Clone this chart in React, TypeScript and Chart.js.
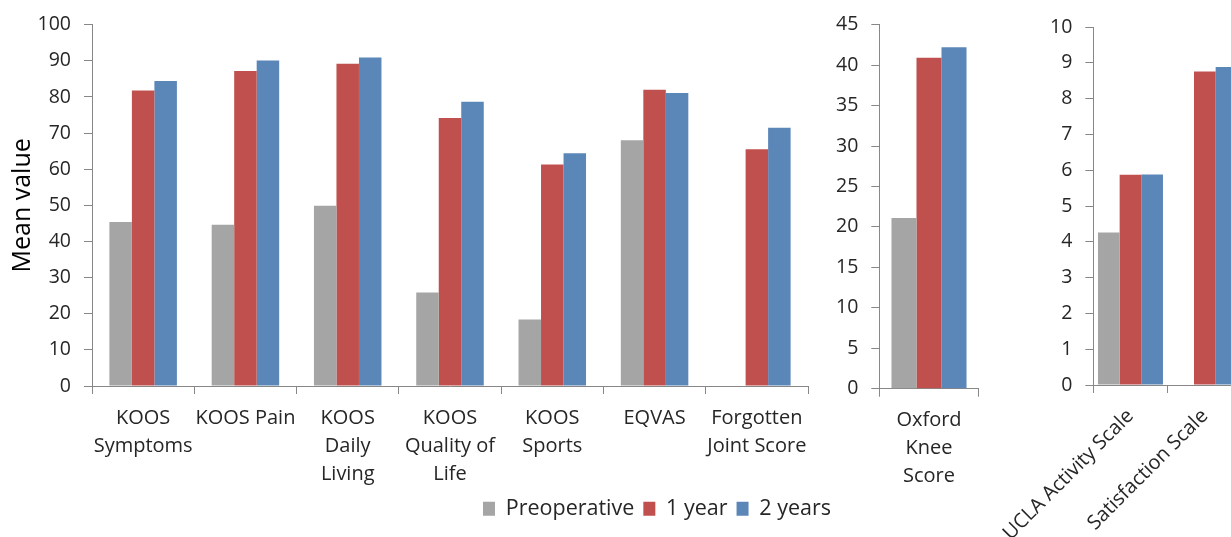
import React, { useEffect, useRef } from 'react';
import { Chart, registerables } from 'chart.js';

Chart.register(...registerables);

// ---------- data ----------
const seriesNames = ['Preoperative', '1 year', '2 years'];

const koosCategories = [
  ['KOOS', 'Symptoms'],
  'KOOS Pain',
  ['KOOS', 'Daily', 'Living'],
  ['KOOS', 'Quality of', 'Life'],
  ['KOOS', 'Sports'],
  'EQVAS',
  ['Forgotten', 'Joint Score'],
];
const koosPreop = [45.4, 44.6, 49.9, 25.9, 18.4, 68.0, null];
const koosYear1 = [81.8, 87.2, 89.2, 74.2, 61.3, 82.0, 65.5];
const koosYear2 = [84.4, 90.1, 90.9, 78.7, 64.4, 81.1, 71.5];

const oxfordCategories = [['Oxford', 'Knee', 'Score']];
const oxfordPreop = [21.1];
const oxfordYear1 = [40.9];
const oxfordYear2 = [42.2];

const scaleCategories = ['UCLA Activity Scale', 'Satisfaction Scale'];
const scalePreop = [4.26, null];
const scaleYear1 = [5.87, 8.76];
const scaleYear2 = [5.88, 8.88];

const yAxisTitle = 'Mean value';

// ---------- styles ----------
const FONT = "'Open Sans', 'Noto Sans', 'DejaVu Sans', sans-serif";
const TEXT = '#262626';
const AXIS = '#878787';
const COLORS = ['#A5A5A5', '#C0504D', '#5B86B8'];

type Opts = {
  labels: any[];
  pre: (number | null)[];
  y1: (number | null)[];
  y2: (number | null)[];
  max: number;
  step: number;
  catPct: number;
  yWidth: number;
  xHeight: number;
  padding: { top: number; right: number; bottom: number; left: number };
  rotation: number;
  xPad: number;
  title?: string;
  legend: boolean;
  rightSpacer?: number;
};

function buildConfig(o: Opts): any {
  const scales: any = {
    x: {
      offset: true,
      grid: {
        offset: true,
        drawOnChartArea: false,
        drawTicks: true,
        tickLength: 8,
        color: AXIS,
        lineWidth: 1,
      },
      border: { display: true, color: AXIS, width: 1 },
      ticks: {
        color: TEXT,
        font: { family: FONT, size: 20, lineHeight: '28px' },
        padding: o.xPad,
        autoSkip: false,
        maxRotation: o.rotation,
        minRotation: o.rotation,
      },
      afterFit: (s: any) => {
        s.height = o.xHeight;
      },
    },
    y: {
      min: 0,
      max: o.max,
      grid: { drawOnChartArea: false, drawTicks: true, tickLength: 8, color: AXIS, lineWidth: 1 },
      border: { display: true, color: AXIS, width: 1 },
      ticks: {
        stepSize: o.step,
        color: TEXT,
        font: { family: FONT, size: 19.5 },
        padding: 13,
      },
      title: o.title
        ? {
            display: true,
            text: o.title,
            color: '#000',
            font: { family: FONT, size: 25 },
            padding: { top: 8, bottom: 0 },
          }
        : { display: false },
      afterFit: (s: any) => {
        s.width = o.yWidth;
      },
    },
  };
  if (o.rightSpacer) {
    scales.y2 = {
      type: 'linear',
      position: 'right',
      display: true,
      grid: { display: false },
      border: { display: false },
      ticks: { display: false },
      afterFit: (s: any) => {
        s.width = o.rightSpacer;
      },
    };
  }
  const series = [o.pre, o.y1, o.y2];
  return {
    type: 'bar',
    data: {
      labels: o.labels,
      datasets: series.map((d, i) => ({
        label: seriesNames[i],
        data: d,
        backgroundColor: COLORS[i],
        borderWidth: 0,
        barPercentage: 1,
        categoryPercentage: o.catPct,
        yAxisID: 'y',
      })),
    },
    options: {
      responsive: false,
      animation: false,
      events: [],
      layout: { padding: o.padding },
      scales,
      plugins: {
        tooltip: { enabled: false },
        title: { display: false },
        legend: {
          display: o.legend,
          position: 'bottom',
          align: 'end',
          labels: {
            boxWidth: 12,
            boxHeight: 14,
            padding: 9,
            color: TEXT,
            font: { family: FONT, size: 21.5 },
          },
        },
      },
    },
  };
}

function Panel(props: { left: number; top: number; width: number; height: number; make: () => any }) {
  const ref = useRef<HTMLCanvasElement>(null);
  useEffect(() => {
    const chart = new Chart(ref.current as HTMLCanvasElement, props.make());
    return () => chart.destroy();
  }, []);
  return (
    <canvas
      ref={ref}
      width={props.width}
      height={props.height}
      style={{ position: 'absolute', left: props.left, top: props.top, width: props.width, height: props.height }}
    />
  );
}

export default function App() {
  return (
    <div
      style={{
        position: 'fixed',
        left: 0,
        top: 0,
        width: 1231,
        height: 537,
        overflow: 'hidden',
        background: '#fff',
      }}
    >
      <Panel
        left={0}
        top={0}
        width={840}
        height={537}
        make={() =>
          buildConfig({
            labels: koosCategories,
            pre: koosPreop,
            y1: koosYear1,
            y2: koosYear2,
            max: 100,
            step: 10,
            catPct: 0.66,
            yWidth: 92,
            xHeight: 103,
            padding: { top: 24, right: 0, bottom: 7.5, left: 0 },
            rotation: 0,
            xPad: 10,
            title: yAxisTitle,
            legend: true,
            rightSpacer: 32,
          })
        }
      />
      <Panel
        left={780}
        top={0}
        width={220}
        height={537}
        make={() =>
          buildConfig({
            labels: oxfordCategories,
            pre: oxfordPreop,
            y1: oxfordYear1,
            y2: oxfordYear2,
            max: 45,
            step: 5,
            catPct: 0.755,
            yWidth: 99.3,
            xHeight: 148.3,
            padding: { top: 24, right: 21.3, bottom: 0, left: 0 },
            rotation: 0,
            xPad: 10,
            legend: false,
          })
        }
      />
      <Panel
        left={960}
        top={0}
        width={300}
        height={600}
        make={() =>
          buildConfig({
            labels: scaleCategories,
            pre: scalePreop,
            y1: scaleYear1,
            y2: scaleYear2,
            max: 10,
            step: 1,
            catPct: 0.874,
            yWidth: 133.3,
            xHeight: 215,
            padding: { top: 27, right: 18, bottom: 0, left: 0 },
            rotation: 45,
            xPad: 10,
            legend: false,
          })
        }
      />
    </div>
  );
}
